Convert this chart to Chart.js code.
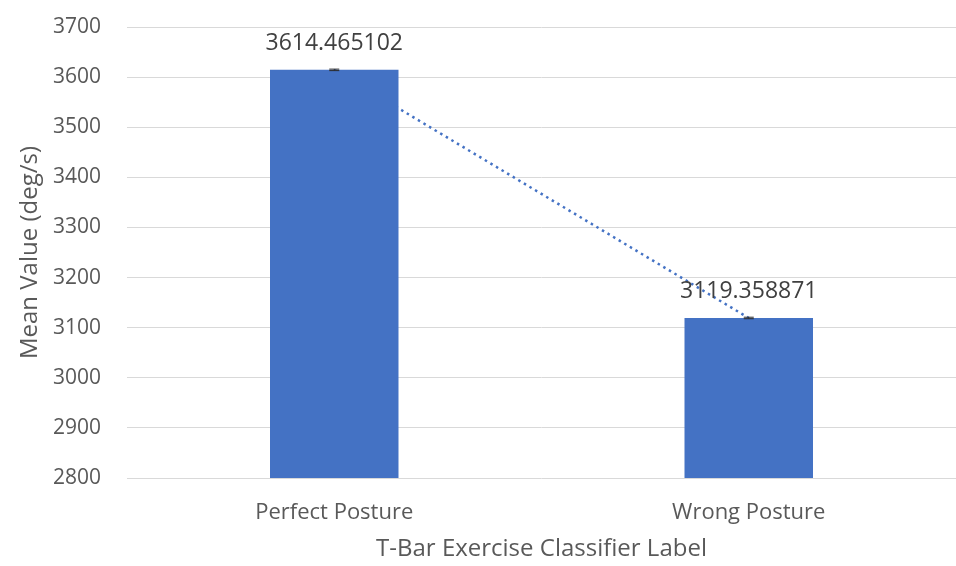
<!DOCTYPE html>
<html>
<head>
<meta charset="utf-8">
<script src="https://cdn.jsdelivr.net/npm/chart.js@4/dist/chart.umd.min.js"></script>
<style>
  html, body { margin: 0; padding: 0; background: #fff; }
  #wrap { width: 956px; height: 566px; }
</style>
</head>
<body>
<div id="wrap"><canvas id="c" width="956" height="566"></canvas></div>
<script>
// Mean angular velocity per T-Bar classifier label
const categories = ['Perfect Posture', 'Wrong Posture'];
const meanValues = [3614.465102, 3119.358871];
const errorValues = [1.5, 1.5];
const valueLabels = ['3614.465102', '3119.358871'];
const yTicks = [2800, 2900, 3000, 3100, 3200, 3300, 3400, 3500, 3600, 3700];

const FONT = "'Open Sans', 'Noto Sans', sans-serif";

// Draws error caps and value labels on top of the bars
const barExtras = {
  id: 'barExtras',
  afterDatasetsDraw(chart) {
    const ctx = chart.ctx;
    const meta = chart.getDatasetMeta(0);
    const y = chart.scales.y;
    ctx.save();
    meta.data.forEach((bar, i) => {
      const x = bar.x;
      const yHi = y.getPixelForValue(meanValues[i] + errorValues[i]);
      const yLo = y.getPixelForValue(meanValues[i] - errorValues[i]);
      ctx.strokeStyle = '#2b2b2b';
      ctx.lineWidth = 1;
      ctx.beginPath();
      ctx.moveTo(x, yHi); ctx.lineTo(x, yLo);
      ctx.moveTo(x - 5, yHi); ctx.lineTo(x + 5, yHi);
      ctx.moveTo(x - 5, yLo); ctx.lineTo(x + 5, yLo);
      ctx.stroke();

      ctx.fillStyle = '#404040';
      ctx.font = '23px ' + FONT;
      ctx.textAlign = 'center';
      ctx.textBaseline = 'alphabetic';
      ctx.fillText(valueLabels[i], x, y.getPixelForValue(meanValues[i]) - 20);
    });
    ctx.restore();
  }
};

new Chart(document.getElementById('c'), {
  data: {
    labels: categories,
    datasets: [
      {
        type: 'bar',
        data: meanValues,
        backgroundColor: '#4472C4',
        borderWidth: 0,
        categoryPercentage: 1,
        barPercentage: 0.31,
        order: 1
      },
      {
        type: 'line',
        data: meanValues,
        borderColor: '#4472C4',
        borderWidth: 2.5,
        borderDash: [2.5, 4],
        pointRadius: 0,
        fill: false,
        order: 2
      }
    ]
  },
  options: {
    responsive: false,
    animation: false,
    events: [],
    layout: { padding: { left: 16, right: 0, top: 27, bottom: 2 } },
    plugins: {
      legend: { display: false },
      tooltip: { enabled: false }
    },
    scales: {
      x: {
        offset: true,
        afterFit(axis) { axis.height = 86; },
        grid: { display: false, drawTicks: false },
        border: { display: false },
        ticks: { color: '#595959', font: { family: FONT, size: 22 }, padding: 22 },
        title: {
          display: true,
          text: 'T-Bar Exercise Classifier Label',
          color: '#595959',
          font: { family: FONT, size: 24 },
          padding: { top: 12, bottom: 0 }
        }
      },
      y: {
        min: 2800,
        max: 3700,
        afterBuildTicks(axis) { axis.ticks = yTicks.map(v => ({ value: v })); },
        afterFit(axis) {
          axis.width = 111;
          axis.paddingTop = 0;
          axis.paddingBottom = 0;
        },
        grid: { color: '#d9d9d9', lineWidth: 1, drawTicks: false },
        border: { display: false },
        ticks: {
          color: '#595959',
          font: { family: FONT, size: 21 },
          padding: 26,
          callback: (v) => String(v)
        },
        title: {
          display: true,
          text: 'Mean Value (deg/s)',
          color: '#595959',
          font: { family: FONT, size: 24 },
          padding: { top: 0, bottom: 10 }
        }
      }
    }
  },
  plugins: [barExtras]
});
</script>
</body>
</html>
